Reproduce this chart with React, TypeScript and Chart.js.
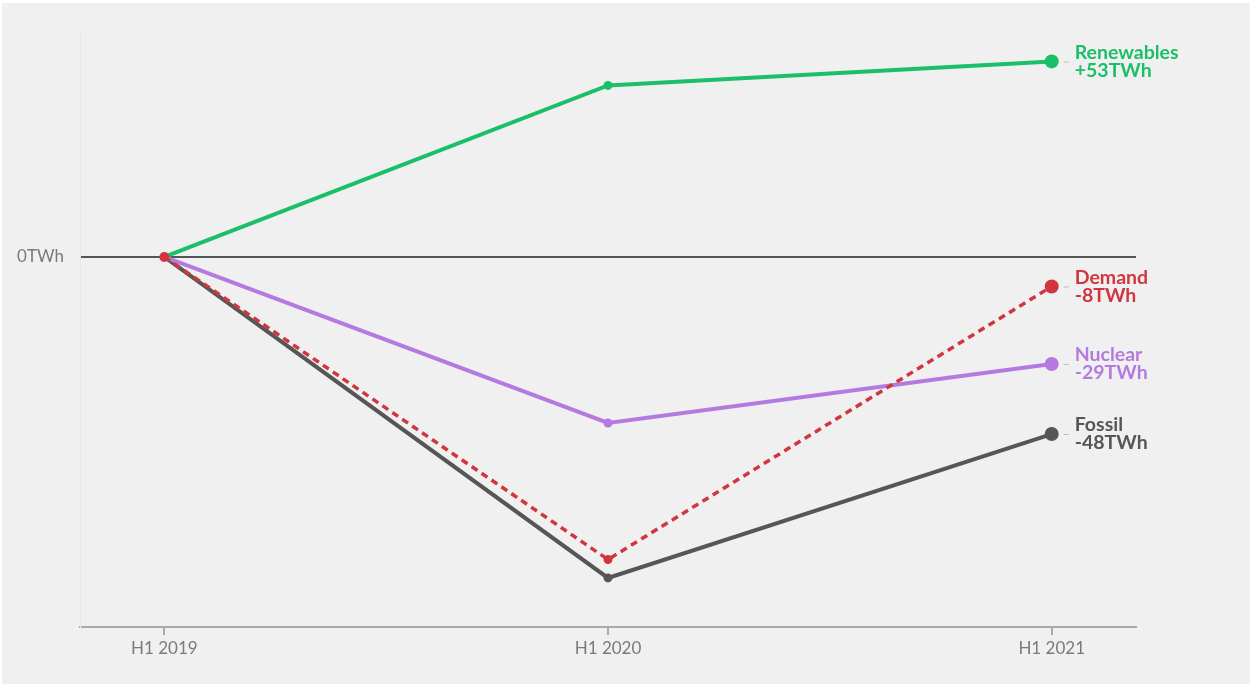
import React, { useEffect, useRef } from "react";
import { Chart, registerables } from "chart.js";

Chart.register(...registerables);

// Half-year periods on the x axis
const periods = ["H1 2019", "H1 2020", "H1 2021"];

// Change in generation versus H1 2019 (TWh)
const renewables = [0, 46.5, 53];
const demand = [0, -82, -8];
const nuclear = [0, -45, -29];
const fossil = [0, -87, -48];

const seriesNames = ["Demand", "Renewables", "Nuclear", "Fossil"];
const seriesColors = ["#d1363f", "#1cbf69", "#b57ae0", "#565656"];
const seriesValues = [demand, renewables, nuclear, fossil];

const fmt = (v: number) => (v > 0 ? "+" : "") + v + "TWh";

const FONT = "Lato, 'Source Sans Pro', 'Noto Sans', sans-serif";

const endLabels = {
  id: "endLabels",
  afterDatasetsDraw(chart: any) {
    const { ctx } = chart;
    const xs = chart.scales.x;
    const ys = chart.scales.y;
    ctx.save();
    seriesValues.forEach((vals, i) => {
      const last = vals.length - 1;
      const px = xs.getPixelForValue(last);
      const py = ys.getPixelForValue(vals[last]);
      ctx.strokeStyle = "#bbbbbb";
      ctx.lineWidth = 1;
      ctx.beginPath();
      ctx.moveTo(px + 12, py + 0.5);
      ctx.lineTo(px + 17, py + 0.5);
      ctx.stroke();
      ctx.fillStyle = seriesColors[i];
      ctx.font = `bold 19.5px ${FONT}`;
      ctx.textAlign = "left";
      ctx.textBaseline = "middle";
      ctx.fillText(seriesNames[i], px + 23, py - 9);
      ctx.fillText(fmt(vals[last]), px + 23, py + 9);
    });
    ctx.restore();
  },
};

export default function App() {
  const ref = useRef<HTMLCanvasElement>(null);

  useEffect(() => {
    if (!ref.current) return;
    const datasets = seriesValues.map((vals, i) => ({
      label: seriesNames[i],
      data: vals.map((v, k) => ({ x: k, y: v })),
      borderColor: seriesColors[i],
      backgroundColor: seriesColors[i],
      borderWidth: i === 0 ? 3.5 : 4,
      borderDash: i === 0 ? [7, 5] : [],
      pointRadius: vals.map((_, k) => (k === 0 ? (i === 0 ? 5 : 0) : k === vals.length - 1 ? 7 : 4.5)),
      pointBorderWidth: 0,
      pointHoverRadius: 7,
      tension: 0,
    }));
    const chart = new Chart(ref.current, {
      type: "line",
      data: { datasets },
      plugins: [endLabels],
      options: {
        animation: false,
        responsive: false,
        maintainAspectRatio: false,
        layout: { padding: { top: 33, right: 114, left: 0, bottom: 0 } },
        plugins: { legend: { display: false }, tooltip: { enabled: false } },
        scales: {
          x: {
            type: "linear",
            min: -0.19,
            max: 2.19,
            afterBuildTicks: (s: any) => {
              s.ticks = periods.map((_, k) => ({ value: k }));
            },
            afterFit: (s: any) => {
              s.height = 57;
            },
            ticks: {
              callback: (v: any) => periods[v as number] ?? "",
              color: "#7a7a7a",
              font: { size: 17, family: FONT },
              padding: 3,
              maxRotation: 0,
              autoSkip: false,
            },
            grid: {
              drawOnChartArea: false,
              drawTicks: true,
              tickLength: 8,
              color: "#aaaaaa",
              lineWidth: 2,
            },
            border: { color: "#aaaaaa", width: 2 },
          },
          y: {
            min: -100.3,
            max: 60.7,
            afterBuildTicks: (s: any) => {
              s.ticks = [{ value: 0 }];
            },
            afterFit: (s: any) => {
              s.width = 80;
            },
            ticks: {
              callback: (v: any) => fmt(v as number),
              color: "#7a7a7a",
              font: { size: 17, family: FONT },
              padding: 16,
            },
            grid: {
              drawTicks: false,
              color: "#555555",
              lineWidth: 2,
            },
            border: { color: "#e6e6e6", width: 1 },
          },
        },
      },
    });
    return () => chart.destroy();
  }, []);

  return (
    <div style={{ position: "fixed", inset: 0, background: "#ffffff" }}>
      <div
        style={{
          position: "absolute",
          left: 2,
          top: 3,
          width: 1248,
          height: 681,
          background: "#f0f0f0",
        }}
      />
      <canvas
        ref={ref}
        width={1250}
        height={684}
        style={{ position: "absolute", left: 0, top: 0, width: 1250, height: 684 }}
      />
    </div>
  );
}
